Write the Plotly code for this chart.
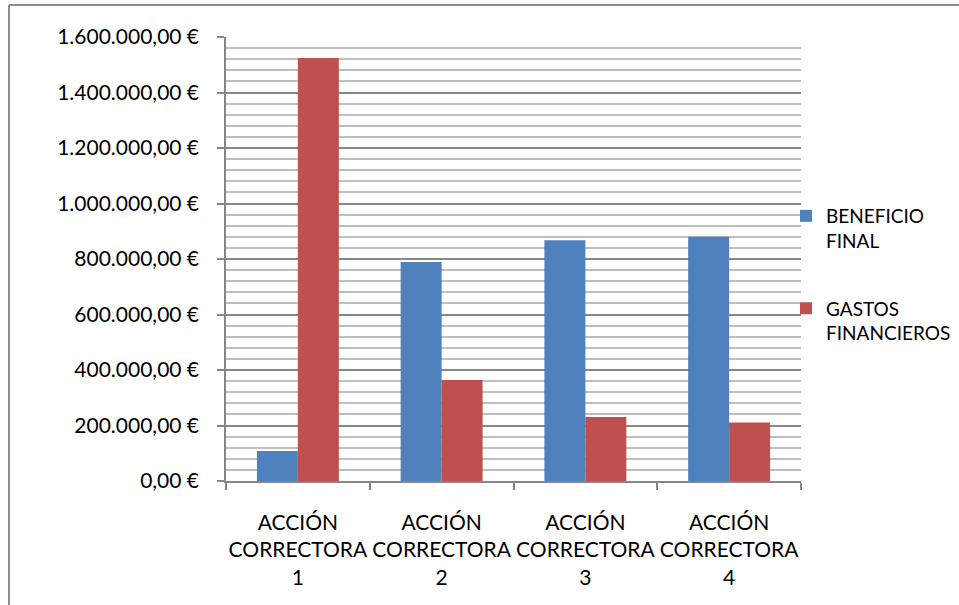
import plotly.graph_objects as go

categories = ["ACCIÓN<br>CORRECTORA<br>1", "ACCIÓN<br>CORRECTORA<br>2",
              "ACCIÓN<br>CORRECTORA<br>3", "ACCIÓN<br>CORRECTORA<br>4"]
beneficio_final = [108000, 789000, 868000, 880000]
gastos_financieros = [1524000, 364000, 231000, 211000]
series_names = ["BENEFICIO<br>FINAL", "GASTOS<br>FINANCIEROS"]
y_ticks = [0, 200000, 400000, 600000, 800000, 1000000, 1200000, 1400000, 1600000]
y_tick_labels = ["0,00 €", "200.000,00 €", "400.000,00 €", "600.000,00 €",
                 "800.000,00 €", "1.000.000,00 €", "1.200.000,00 €",
                 "1.400.000,00 €", "1.600.000,00 €"]

W, H = 959, 605
L, R, T, B = 226, 158, 37, 124
pw, ph = W - L - R, H - T - B

def px_x(x):
    return (x - L) / pw

def px_y(y):
    return (H - B - y) / ph

FONT = "Lato"
FS = 21

fig = go.Figure()
fig.add_trace(go.Bar(x=categories, y=beneficio_final, name=series_names[0],
                     marker=dict(color="#4F81BD", line=dict(width=0)),
                     legendgroup="a"))
fig.add_trace(go.Bar(x=categories, y=gastos_financieros, name=series_names[1],
                     marker=dict(color="#C0504D", line=dict(width=0)),
                     legendgroup="b"))

axis_col = "#868686"
fig.update_layout(
    width=W, height=H,
    margin=dict(l=L, r=R, t=T, b=B, pad=0, autoexpand=False),
    paper_bgcolor="white", plot_bgcolor="white",
    font=dict(family=FONT, size=FS, color="#000000"),
    barmode="group", bargap=0.43, bargroupgap=0,
    showlegend=True,
    legend=dict(x=px_x(786), y=px_y(197), xanchor="left", yanchor="top",
                valign="top", tracegroupgap=40, bgcolor="rgba(0,0,0,0)",
                font=dict(family=FONT, size=19, color="#000000")),
    xaxis=dict(type="category", showgrid=False, zeroline=False,
               showline=True, linecolor=axis_col, linewidth=1.5,
               ticks="outside", ticklen=7, tickcolor=axis_col, tickwidth=1.5,
               tickson="boundaries", tickangle=0, automargin=False,
               ticklabelstandoff=22),
    yaxis=dict(range=[0, 1600000], tickmode="array", tickvals=y_ticks,
               ticktext=y_tick_labels, automargin=False,
               showgrid=True, gridcolor=axis_col, gridwidth=1.5,
               zeroline=False, showline=True, linecolor=axis_col, linewidth=1.5,
               ticks="outside", ticklen=7, tickcolor=axis_col, tickwidth=1.5,
               ticklabelstandoff=14,
               minor=dict(dtick=40000, tick0=0, showgrid=True,
                          gridcolor="#BEBEBE", gridwidth=1.5, ticks="")),
    shapes=[
        dict(type="line", xref="paper", yref="paper",
             x0=px_x(9), x1=px_x(9), y0=px_y(5), y1=px_y(606),
             line=dict(color="#8C8C8C", width=2)),
        dict(type="line", xref="paper", yref="paper",
             x0=px_x(9), x1=px_x(960), y0=px_y(5), y1=px_y(5),
             line=dict(color="#8C8C8C", width=2)),
    ],
)

fig.write_html("out.html")
